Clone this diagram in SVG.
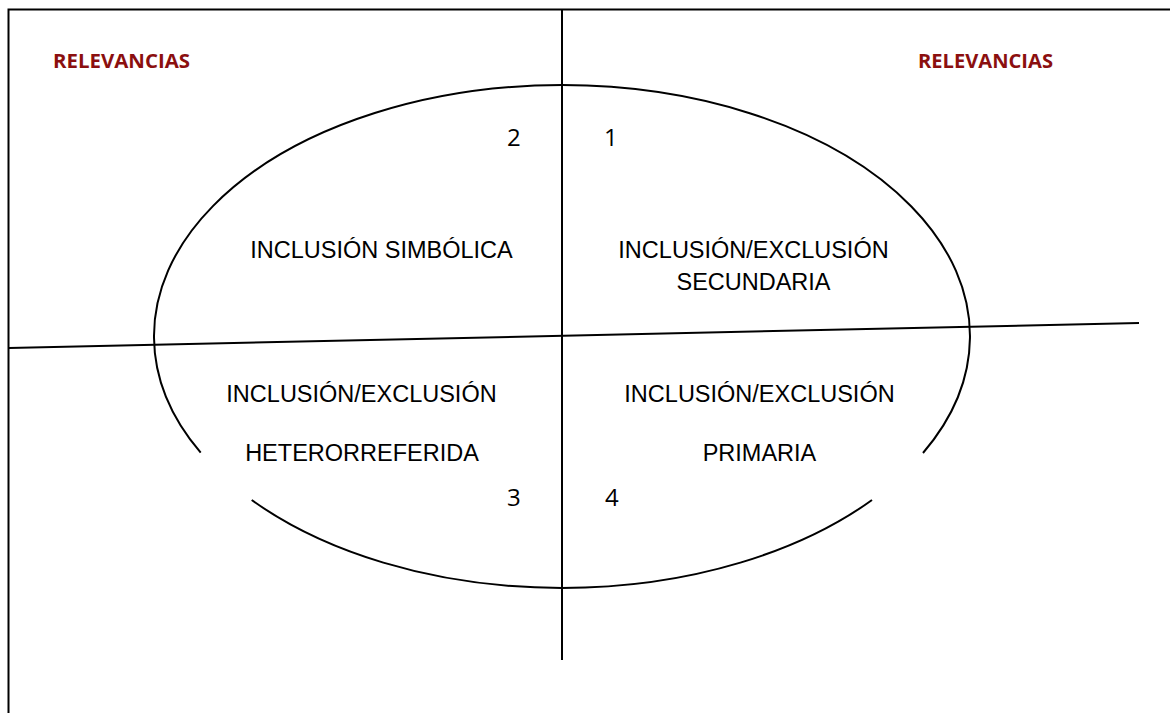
<svg xmlns="http://www.w3.org/2000/svg" width="1170" height="713" viewBox="0 0 1170 713">
<style>
.ln{stroke:#000;stroke-width:2;fill:none}
.rel{font-family:"Open Sans","Lato",sans-serif;font-weight:bold;font-size:19px;fill:#8B0F0F}
.lab{font-family:"Liberation Sans",Arial,sans-serif;font-size:23.5px;fill:#000;text-anchor:middle}
.num{font-family:"Open Sans","Liberation Sans",sans-serif;font-size:24px;fill:#000}
</style>
<rect width="1170" height="713" fill="#fff"/>
<g id="frame">
<path class="ln" d="M8.5 713 V9.5 H1170" stroke-width="3"/>
</g>
<g id="connectors">
<path class="ln" d="M251.7 500 A408 251 0 0 0 872 500"/>
<path class="ln" d="M923 453 A408 251 0 1 0 200.7 452.7"/>
<line class="ln" x1="562" y1="10" x2="562" y2="660"/>
<line class="ln" x1="9" y1="348" x2="1139" y2="323"/>
</g>
<g id="rel-left"><text class="rel" x="53" y="68" textLength="137" lengthAdjust="spacingAndGlyphs">RELEVANCIAS</text></g>
<g id="rel-right"><text class="rel" x="918" y="68" textLength="135" lengthAdjust="spacingAndGlyphs">RELEVANCIAS</text></g>
<g id="q2">
<text class="num" x="507" y="146">2</text>
<text class="lab" x="381.5" y="258">INCLUSIÓN SIMBÓLICA</text>
</g>
<g id="q1">
<text class="num" x="604" y="146">1</text>
<text class="lab" x="753.5" y="258">INCLUSIÓN/EXCLUSIÓN</text>
<text class="lab" x="753.5" y="290">SECUNDARIA</text>
</g>
<g id="q3">
<text class="num" x="507" y="506">3</text>
<text class="lab" x="361.5" y="402">INCLUSIÓN/EXCLUSIÓN</text>
<text class="lab" x="362" y="461">HETERORREFERIDA</text>
</g>
<g id="q4">
<text class="num" x="605" y="506">4</text>
<text class="lab" x="759.5" y="402">INCLUSIÓN/EXCLUSIÓN</text>
<text class="lab" x="759.5" y="461">PRIMARIA</text>
</g>
</svg>
